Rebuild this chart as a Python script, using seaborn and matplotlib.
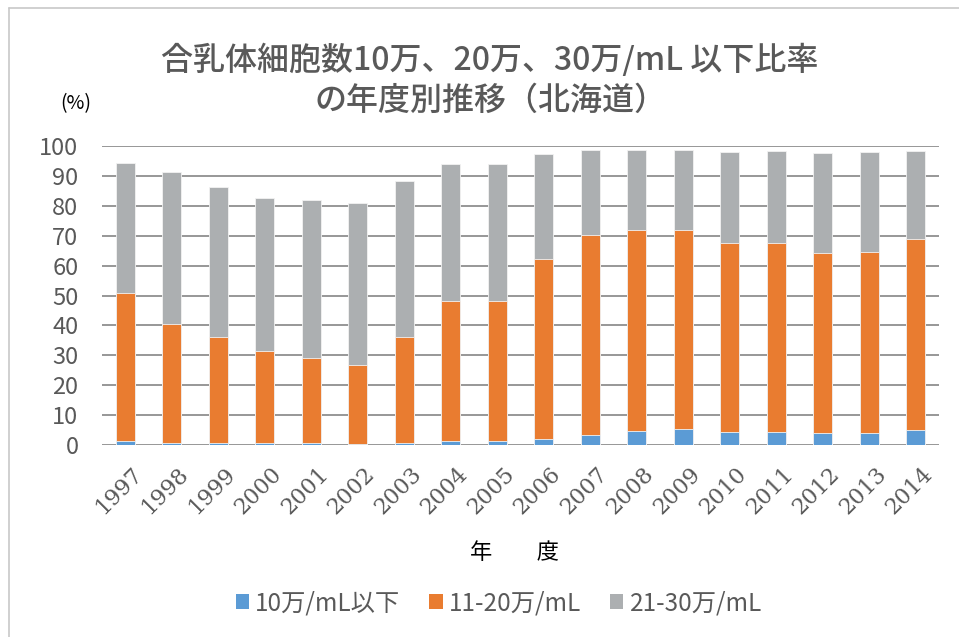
import matplotlib
matplotlib.use("Agg")
import matplotlib.pyplot as plt
import matplotlib.transforms as mtransforms
from matplotlib import font_manager
import seaborn as sns
import pandas as pd
from matplotlib.patches import Patch
from matplotlib.lines import Line2D

# cumulative shares (%)
years = [str(y) for y in range(1997, 2015)]
under_10 = [1.2, 0.6, 0.6, 0.7, 0.6, 0.5, 0.8, 1.2, 1.2, 1.9, 3.2, 4.7, 5.2, 4.2, 4.5, 4.0, 4.0, 4.9]
under_20 = [51.0, 40.5, 36.0, 31.4, 29.2, 26.9, 36.0, 48.2, 48.2, 62.1, 70.1, 71.9, 71.9, 67.6, 67.5, 64.3, 64.4, 68.8]
under_30 = [94.3, 91.3, 86.3, 82.6, 82.0, 80.9, 88.2, 93.9, 93.9, 97.4, 98.5, 98.8, 98.5, 98.0, 98.2, 97.7, 98.1, 98.3]
legend_labels = ["10万/mL以下", "11-20万/mL", "21-30万/mL"]
colors = ["#5B9BD5", "#E97C30", "#ACAFB1"]

df = pd.DataFrame({"year": years, "u10": under_10, "u20": under_20, "u30": under_30})

sns.set_style("white")
plt.rcParams["font.family"] = ["Noto Sans CJK JP", "DejaVu Sans"]
text_gray = "#595959"

# serif face for the year labels
serif_path = font_manager.findfont(font_manager.FontProperties(family=["DejaVu Serif", "Liberation Serif"]))
year_font = font_manager.FontProperties(fname=serif_path, size=16)

fig = plt.figure(figsize=(9.59, 6.37), dpi=100)
ax = fig.add_axes([0.1064, 0.3014, 0.8727, 0.4694])

# overlay cumulative bars, tallest first
for col, c in zip(["u30", "u20", "u10"], colors[::-1]):
    sns.barplot(data=df, x="year", y=col, color=c, width=0.4, ax=ax, saturation=1,
                edgecolor="#f2f2f2", linewidth=0.6, zorder=3)

ax.set_ylim(0, 100)
ax.set_xlim(-0.5, 17.5)
ax.set_yticks(range(0, 101, 10))
ax.yaxis.grid(True, color="#8f8f8f", linewidth=1.3, zorder=0)
ax.set_axisbelow(True)
for s in ax.spines.values():
    s.set_visible(False)
ax.set_xlabel("")
ax.set_ylabel("")
ax.tick_params(axis="y", length=0, pad=17, labelsize=17, labelcolor=text_gray)
ax.tick_params(axis="x", length=0, pad=13)
ax.set_xticks(range(len(years)))
ax.set_xticklabels(years, rotation=45, ha="right", va="top", rotation_mode="anchor",
                   fontproperties=year_font, color=text_gray)
shift = mtransforms.ScaledTranslation(6 / 100, 0, fig.dpi_scale_trans)
for lbl in ax.get_xticklabels():
    lbl.set_transform(lbl.get_transform() + shift)

fig.text(0.511, 0.874, "合乳体細胞数10万、20万、30万/mL 以下比率\nの年度別推移（北海道）",
         ha="center", va="center", fontsize=23, fontweight="medium", color=text_gray,
         linespacing=1.3)
fig.text(0.079, 0.838, "(%)", ha="center", va="center", fontsize=14, color="black")
fig.text(0.537, 0.132, "年　　度", ha="center", va="center", fontsize=16, color="black")

handles = [Patch(facecolor=c, edgecolor="none") for c in colors]
fig.legend(handles, legend_labels, loc="center", bbox_to_anchor=(0.52, 0.053), ncol=3,
           frameon=False, fontsize=17.5, labelcolor=text_gray, handlelength=0.55,
           handleheight=0.55, handletextpad=0.25, columnspacing=1.2)

# outer frame lines (top and left)
fig.add_artist(Line2D([9 / 959, 1], [1 - 8 / 637, 1 - 8 / 637], color="#c8c8c8", lw=1.2))
fig.add_artist(Line2D([9 / 959, 9 / 959], [0, 1 - 8 / 637], color="#c8c8c8", lw=1.2))

fig.savefig("out.png", dpi=100)
